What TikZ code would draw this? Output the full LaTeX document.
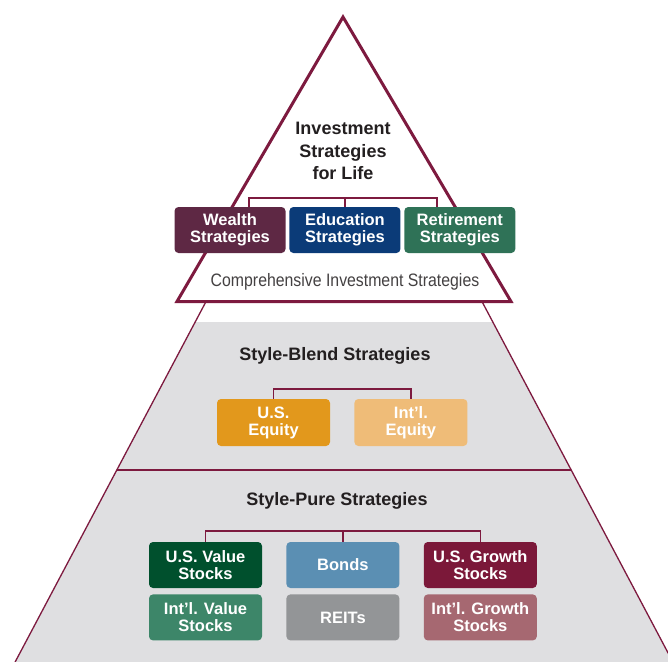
\documentclass[tikz,border=0pt]{standalone}
\usepackage{fontspec}
\setmainfont{Liberation Sans}
\newfontfamily\narrowfont[FakeStretch=0.88]{Liberation Sans}
\usetikzlibrary{positioning, calc}

\definecolor{maroon}{HTML}{7D1A3F}
\definecolor{ink}{HTML}{231F20}
\definecolor{bandgray}{HTML}{DFDFE1}
\definecolor{wealthc}{HTML}{5E2844}
\definecolor{educ}{HTML}{0B3B78}
\definecolor{retc}{HTML}{2F7257}
\definecolor{useqc}{HTML}{E2981C}
\definecolor{intleqc}{HTML}{EFBC78}
\definecolor{usvalc}{HTML}{00502D}
\definecolor{intlvalc}{HTML}{3D8669}
\definecolor{bondc}{HTML}{5B8FB3}
\definecolor{reitc}{HTML}{939597}
\definecolor{usgroc}{HTML}{7B1839}
\definecolor{intlgroc}{HTML}{A66871}

\begin{document}
\begin{tikzpicture}[x=1pt, y=-1pt,
    box/.style={rounded corners=4pt, text=white, align=center, inner sep=0pt,
        minimum width=111pt, minimum height=46pt,
        font=\fontsize{16.5}{17}\selectfont\bfseries},
    head/.style={text=ink, font=\fontsize{18}{20}\selectfont\bfseries},
    link/.style={draw=maroon, line width=1.4pt}]
    \useasboundingbox (0,0) rectangle (668,661);
    \clip (0,0) rectangle (668,661);
    % pyramid body
    \coordinate (top) at (344,41);
    \coordinate (bl) at (-5,700);
    \coordinate (br) at (693,700);
    \begin{scope}
        \clip (top) -- (br) -- (bl) -- cycle;
        \fill[bandgray] (0,322) rectangle (668,700);
        \draw[maroon, line width=2.2pt] (0,470) -- (668,470);
    \end{scope}
    \draw[maroon, line width=1.3pt] (bl) -- (top) -- (br);
    % top triangle with soft shadow
    \coordinate (apex) at (343,17);
    \coordinate (tl) at (177,301.5);
    \coordinate (tr) at (511,301.5);
    \foreach \s in {1,...,10}
        \fill[black, opacity=0.045, shift={(0,\s)}] (apex) -- (tr) -- (tl) -- cycle;
    \draw[maroon, line width=3pt, fill=white] (apex) -- (tr) -- (tl) -- cycle;
    \node[align=center, text=ink, font=\fontsize{18}{22.5}\selectfont\bfseries] (title) at (343,151) {Investment\\Strategies\\for Life};
    \node[box, fill=wealthc] (wealth) at (230,230) {Wealth\\Strategies};
    \node[box, fill=educ, right=3.5pt of wealth] (edu) {Education\\Strategies};
    \node[box, fill=retc, right=3.5pt of edu] (ret) {Retirement\\Strategies};
    \draw[link] ([xshift=19pt]wealth.north) -- ++(0,-9) -| ([xshift=-23pt]ret.north);
    \draw[link] (edu.north) -- ++(0,-9);
    \node[text=ink!85, font=\narrowfont\fontsize{18}{20}\selectfont] (comp) at (345,282) {Comprehensive Investment Strategies};
    % style-blend band
    \node[head] (blend) at (335,356) {Style-Blend Strategies};
    \node[box, fill=useqc, minimum width=113pt, minimum height=47pt] (useq) at (273.5,422.5) {U.S.\\Equity};
    \node[box, fill=intleqc, minimum width=113pt, minimum height=47pt, right=24pt of useq] (intleq) {Int’l.\\Equity};
    \draw[link] (useq.north) -- ++(0,-10) -| (intleq.north);
    % style-pure band
    \node[head] (pure) at (337,501) {Style-Pure Strategies};
    \node[box, fill=usvalc, minimum width=113pt] (usval) at (205.5,565) {U.S. Value\\Stocks};
    \node[box, fill=bondc, minimum width=113pt, right=24pt of usval] (bonds) {Bonds};
    \node[box, fill=usgroc, minimum width=113pt, right=24pt of bonds] (usgro) {U.S. Growth\\Stocks};
    \node[box, fill=intlvalc, minimum width=113pt, below=6pt of usval] (intlval) {Int’l. Value\\Stocks};
    \node[box, fill=reitc, minimum width=113pt, below=6pt of bonds] (reits) {REITs};
    \node[box, fill=intlgroc, minimum width=113pt, below=6pt of usgro] (intlgro) {Int’l. Growth\\Stocks};
    \draw[link] (usval.north) -- ++(0,-11) -| (usgro.north);
    \draw[link] (bonds.north) -- ++(0,-11);
\end{tikzpicture}
\end{document}
